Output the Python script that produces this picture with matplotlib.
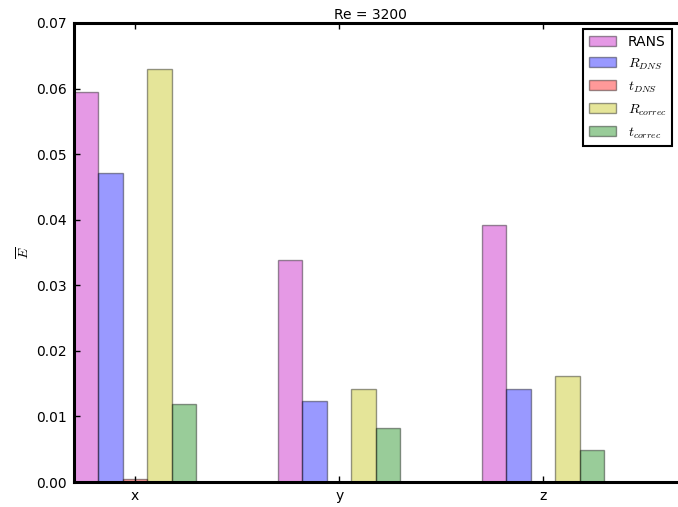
import matplotlib
matplotlib.use('Agg')
import matplotlib.pyplot as plt
import numpy as np
from matplotlib.ticker import FormatStrFormatter

categories = ['x', 'y', 'z']
rans = [0.0595, 0.0339, 0.0392]
r_dns = [0.0471, 0.0124, 0.0142]
t_dns = [0.0004, 0.00005, 0.00005]
r_correc = [0.0630, 0.0142, 0.0162]
t_correc = [0.0119, 0.0082, 0.0049]
labels = ['RANS', r'$R_{DNS}$', r'$t_{DNS}$', r'$R_{correc}$', r'$t_{correc}$']
colors = ['m', 'b', 'r', 'y', 'g']
title = 'Re = 3200'

plt.rcParams['mathtext.fontset'] = 'cm'
plt.rcParams['font.family'] = ['DejaVu Sans']

W, H = 678, 507
fig = plt.figure(figsize=(W / 100, H / 100), dpi=100)
ax = fig.add_axes([74 / W, (H - 482) / H, 612 / W, (482 - 23) / H])

series = [rans, r_dns, t_dns, r_correc, t_correc]
ind = np.arange(len(categories))
width = 0.12
for i, (vals, lab, col) in enumerate(zip(series, labels, colors)):
    ax.bar(ind + (i - 2) * width, vals, width, color=col, alpha=0.4,
           edgecolor='black', linewidth=1.0, label=lab)

ax.set_xlim(-0.3, 2.7)
ax.set_ylim(0, 0.07)
ax.set_xticks(ind)
ax.set_xticklabels(categories, fontsize=10)
ax.set_yticks(np.arange(0, 0.0701, 0.01))
ax.yaxis.set_major_formatter(FormatStrFormatter('%.2f'))
ax.tick_params(direction='in', top=True, right=True, length=4, width=1,
               labelsize=10, pad=5)
for s in ax.spines.values():
    s.set_linewidth(2.2)
ax.set_ylabel(r'$\overline{E}$', fontsize=10, labelpad=3)
ax.set_title(title, fontsize=10, x=(370 - 74) / 612, pad=3)

leg = ax.legend(loc='upper right', bbox_to_anchor=(672 / W, 1 - 29 / H),
                bbox_transform=fig.transFigure, borderaxespad=0,
                fontsize=10, fancybox=False, framealpha=1,
                edgecolor='black', labelspacing=0.55)
leg.get_frame().set_linewidth(1.5)

fig.savefig('out.png', dpi=100)
